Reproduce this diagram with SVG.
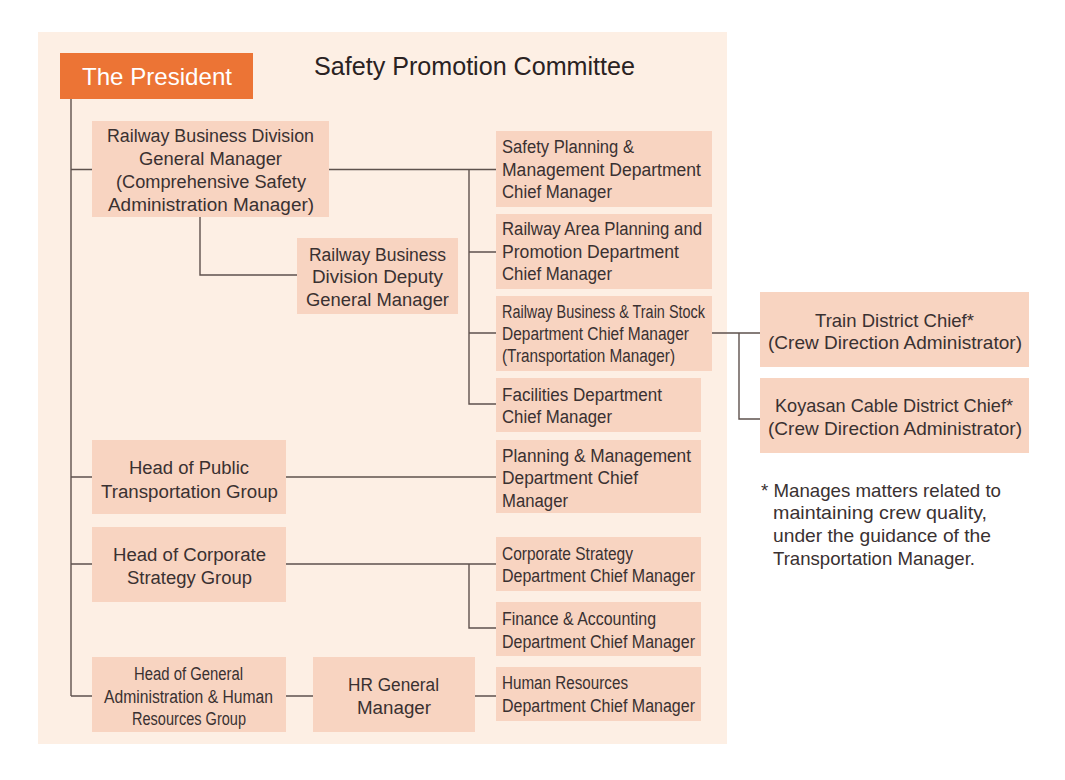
<svg xmlns="http://www.w3.org/2000/svg" width="1065" height="780" viewBox="0 0 1065 780">
<style>
  .bg{fill:#fdefe4}
  .box{fill:#f8d4c1}
  .pres{fill:#ec7435}
  .t{font-family:"Liberation Sans",Arial,sans-serif;font-size:18px;fill:#3a3131}
  .c{text-anchor:middle}
  .big{font-size:19px}
  .note{font-family:"Liberation Sans",Arial,sans-serif;font-size:19px;fill:#3a3131}
  .title{font-family:"Liberation Sans",Arial,sans-serif;font-size:25px;fill:#2a2222}
  .ptext{font-family:"Liberation Sans",Arial,sans-serif;font-size:24px;fill:#ffffff}
  .ln{fill:none;stroke:#5e524d;stroke-width:1.4}
</style>
<rect width="1065" height="780" fill="#ffffff"/>
<rect class="bg" x="38" y="32" width="689" height="712"/>
<text class="title" x="314" y="75" textLength="321" lengthAdjust="spacingAndGlyphs">Safety Promotion Committee</text>

<g id="connectors">
  <path class="ln" d="M71 99V696"/>
  <path class="ln" d="M71 169.5H92M71 477H92M71 564H92M71 696H92"/>
  <path class="ln" d="M329 169.5H496M469 169.5V404H496M469 252H496M469 333H496"/>
  <path class="ln" d="M200 217V275H297"/>
  <path class="ln" d="M286 477H496"/>
  <path class="ln" d="M286 564H496M469 564V628H496"/>
  <path class="ln" d="M286 696H313M475 696H496"/>
  <path class="ln" d="M712 333H760M739 333V419H760"/>
</g>

<g id="president">
  <rect class="pres" x="60" y="53" width="193" height="46"/>
  <text class="ptext" x="157" y="85" text-anchor="middle" textLength="150" lengthAdjust="spacingAndGlyphs">The President</text>
</g>

<g id="rbd-gm">
  <rect class="box" x="92" y="121" width="237" height="96"/>
  <text class="t c" x="210.5" y="142" textLength="207" lengthAdjust="spacingAndGlyphs">Railway Business Division</text>
  <text class="t c" x="210.5" y="165" textLength="143" lengthAdjust="spacingAndGlyphs">General Manager</text>
  <text class="t c" x="211" y="188" textLength="190" lengthAdjust="spacingAndGlyphs">(Comprehensive Safety</text>
  <text class="t c" x="211" y="211" textLength="206" lengthAdjust="spacingAndGlyphs">Administration Manager)</text>
</g>

<g id="rbd-deputy">
  <rect class="box" x="297" y="238" width="161" height="76"/>
  <text class="t c" x="377.5" y="261" textLength="137" lengthAdjust="spacingAndGlyphs">Railway Business</text>
  <text class="t c" x="377.5" y="283" textLength="131" lengthAdjust="spacingAndGlyphs">Division Deputy</text>
  <text class="t c" x="377.5" y="306" textLength="143" lengthAdjust="spacingAndGlyphs">General Manager</text>
</g>

<g id="safety-planning">
  <rect class="box" x="496" y="131" width="216" height="76"/>
  <text class="t" x="502" y="153" textLength="132" lengthAdjust="spacingAndGlyphs">Safety Planning &amp;</text>
  <text class="t" x="502" y="176" textLength="199" lengthAdjust="spacingAndGlyphs">Management Department</text>
  <text class="t" x="502" y="198" textLength="110" lengthAdjust="spacingAndGlyphs">Chief Manager</text>
</g>

<g id="railway-area">
  <rect class="box" x="496" y="214" width="216" height="75"/>
  <text class="t" x="502" y="235" textLength="200" lengthAdjust="spacingAndGlyphs">Railway Area Planning and</text>
  <text class="t" x="502" y="258" textLength="177" lengthAdjust="spacingAndGlyphs">Promotion Department</text>
  <text class="t" x="502" y="280" textLength="110" lengthAdjust="spacingAndGlyphs">Chief Manager</text>
</g>

<g id="railway-train-stock">
  <rect class="box" x="496" y="296" width="216" height="75"/>
  <text class="t" x="502" y="318" textLength="203" lengthAdjust="spacingAndGlyphs">Railway Business &amp; Train Stock</text>
  <text class="t" x="502" y="340" textLength="187" lengthAdjust="spacingAndGlyphs">Department Chief Manager</text>
  <text class="t" x="502" y="362" textLength="173" lengthAdjust="spacingAndGlyphs">(Transportation Manager)</text>
</g>

<g id="facilities">
  <rect class="box" x="496" y="378" width="205" height="54"/>
  <text class="t" x="502" y="401" textLength="160" lengthAdjust="spacingAndGlyphs">Facilities Department</text>
  <text class="t" x="502" y="423" textLength="110" lengthAdjust="spacingAndGlyphs">Chief Manager</text>
</g>

<g id="head-public">
  <rect class="box" x="92" y="440" width="194" height="74"/>
  <text class="t c" x="189" y="474" textLength="120" lengthAdjust="spacingAndGlyphs">Head of Public</text>
  <text class="t c" x="189.5" y="498" textLength="177" lengthAdjust="spacingAndGlyphs">Transportation Group</text>
</g>

<g id="planning-mgmt">
  <rect class="box" x="496" y="440" width="205" height="73"/>
  <text class="t" x="502" y="462" textLength="189" lengthAdjust="spacingAndGlyphs">Planning &amp; Management</text>
  <text class="t" x="502" y="484" textLength="136" lengthAdjust="spacingAndGlyphs">Department Chief</text>
  <text class="t" x="502" y="507" textLength="66" lengthAdjust="spacingAndGlyphs">Manager</text>
</g>

<g id="head-corporate">
  <rect class="box" x="92" y="527" width="194" height="75"/>
  <text class="t c" x="189.5" y="561" textLength="153" lengthAdjust="spacingAndGlyphs">Head of Corporate</text>
  <text class="t c" x="189.5" y="584" textLength="125" lengthAdjust="spacingAndGlyphs">Strategy Group</text>
</g>

<g id="corporate-strategy">
  <rect class="box" x="496" y="537" width="205" height="54"/>
  <text class="t" x="502" y="560" textLength="131" lengthAdjust="spacingAndGlyphs">Corporate Strategy</text>
  <text class="t" x="502" y="582" textLength="193" lengthAdjust="spacingAndGlyphs">Department Chief Manager</text>
</g>

<g id="finance">
  <rect class="box" x="496" y="602" width="205" height="54"/>
  <text class="t" x="502" y="625" textLength="154" lengthAdjust="spacingAndGlyphs">Finance &amp; Accounting</text>
  <text class="t" x="502" y="648" textLength="193" lengthAdjust="spacingAndGlyphs">Department Chief Manager</text>
</g>

<g id="head-general-admin">
  <rect class="box" x="92" y="657" width="194" height="75"/>
  <text class="t c" x="188.5" y="680" textLength="109" lengthAdjust="spacingAndGlyphs">Head of General</text>
  <text class="t c" x="188.5" y="703" textLength="169" lengthAdjust="spacingAndGlyphs">Administration &amp; Human</text>
  <text class="t c" x="189" y="725" textLength="114" lengthAdjust="spacingAndGlyphs">Resources Group</text>
</g>

<g id="hr-gm">
  <rect class="box" x="313" y="657" width="162" height="75"/>
  <text class="t c" x="393.5" y="691" textLength="91" lengthAdjust="spacingAndGlyphs">HR General</text>
  <text class="t c" x="394" y="714" textLength="74" lengthAdjust="spacingAndGlyphs">Manager</text>
</g>

<g id="human-resources">
  <rect class="box" x="496" y="667" width="205" height="54"/>
  <text class="t" x="502" y="689" textLength="126" lengthAdjust="spacingAndGlyphs">Human Resources</text>
  <text class="t" x="502" y="712" textLength="193" lengthAdjust="spacingAndGlyphs">Department Chief Manager</text>
</g>

<g id="train-district">
  <rect class="box" x="760" y="292" width="269" height="75"/>
  <text class="t big c" x="894.5" y="327" textLength="159" lengthAdjust="spacingAndGlyphs">Train District Chief*</text>
  <text class="t big c" x="895" y="349" textLength="254" lengthAdjust="spacingAndGlyphs">(Crew Direction Administrator)</text>
</g>

<g id="koyasan-cable">
  <rect class="box" x="760" y="378" width="269" height="75"/>
  <text class="t big c" x="894" y="412" textLength="238" lengthAdjust="spacingAndGlyphs">Koyasan Cable District Chief*</text>
  <text class="t big c" x="895" y="435" textLength="254" lengthAdjust="spacingAndGlyphs">(Crew Direction Administrator)</text>
</g>

<g id="note">
  <text class="note" x="761" y="497" textLength="240" lengthAdjust="spacingAndGlyphs">* Manages matters related to</text>
  <text class="note" x="773" y="519" textLength="214" lengthAdjust="spacingAndGlyphs">maintaining crew quality,</text>
  <text class="note" x="773" y="542" textLength="218" lengthAdjust="spacingAndGlyphs">under the guidance of the</text>
  <text class="note" x="773" y="565" textLength="202" lengthAdjust="spacingAndGlyphs">Transportation Manager.</text>
</g>
</svg>
